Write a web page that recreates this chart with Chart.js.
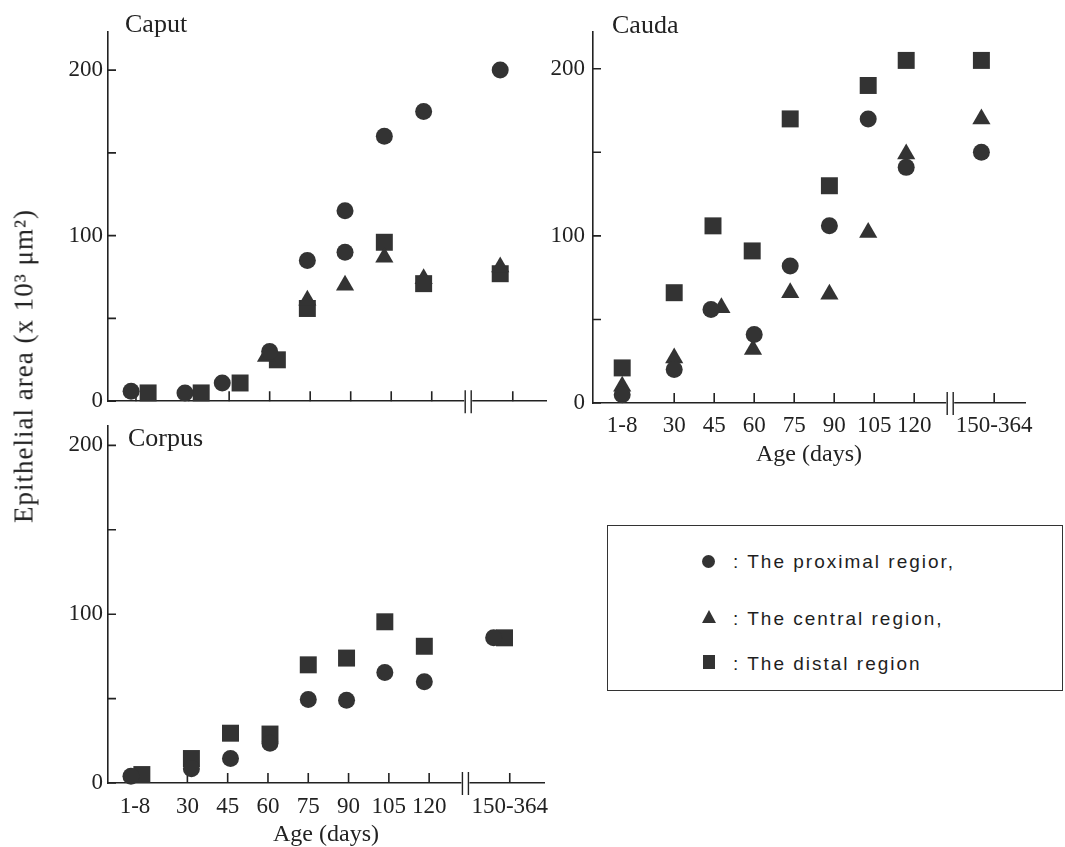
<!DOCTYPE html>
<html>
<head>
<meta charset="utf-8">
<script src="https://cdn.jsdelivr.net/npm/chart.js@4.4.1/dist/chart.umd.min.js"></script>
<style>
  body { margin: 0; background: #fff; width: 1065px; height: 847px; overflow: hidden; position: relative; }
  canvas { position: absolute; }
  #ytitle {
    position: absolute; left: 24px; top: 366px; white-space: nowrap;
    font: 27px/27px "Liberation Serif", serif; color: #222; letter-spacing: 1px;
    transform: translate(-50%, -50%) rotate(-90deg);
  }
  #legend {
    position: absolute; left: 607px; top: 525px; width: 454px; height: 164px;
    border: 1.5px solid #333; font: 19px/20px "Liberation Sans", sans-serif;
    letter-spacing: 2px; color: #1e1e1e;
  }
  #legend .row { position: absolute; left: 0; white-space: nowrap; }
  #legend .mk { position: absolute; background: #333; }
  #legend .txt { position: absolute; left: 125px; top: 0; }
</style>
</head>
<body>
<canvas id="caput" width="560" height="420" style="left:0;top:0"></canvas>
<canvas id="cauda" width="525" height="480" style="left:540px;top:0"></canvas>
<canvas id="corpus" width="560" height="440" style="left:0;top:407px"></canvas>
<div id="ytitle">Epithelial area (x 10³ μm²)</div>
<div id="legend">
  <div class="row" style="top:26px"><span class="mk" style="left:94px;top:3px;width:13px;height:13px;border-radius:50%"></span><span class="txt">: The proximal regior,</span></div>
  <div class="row" style="top:83px"><span class="mk" style="left:94px;top:1px;width:0;height:0;background:none;border-left:7px solid transparent;border-right:7px solid transparent;border-bottom:13px solid #333"></span><span class="txt">: The central region,</span></div>
  <div class="row" style="top:128px"><span class="mk" style="left:95px;top:1px;width:12px;height:14px"></span><span class="txt">: The distal region</span></div>
</div>
<script>
// age groups and where they sit on the (broken) x axis
const ages = ['1-8', '30', '45', '60', '75', '90', '105', '120', '150-364'];
const agePos = [0, 1.3, 2.3, 3.3, 4.3, 5.3, 6.3, 7.3, 9.3];
const breakPos = 8.2;

// Caput (x 10^3 um^2)
const caputProximal = [6, 5, 11, 30, 85, 115, 160, 175, 200];
const caputCentral  = [null, null, null, 27, 61, 70, 87, 74, 81];
const caputDistal   = [5, 5, 11, 25, 56, 90, 96, 71, 77];
// small sideways shifts of the printed symbols (category units)
const caputProximalOff = [-0.12, -0.09, -0.17, 0, -0.07, -0.14, -0.17, -0.2, -0.31];
const caputCentralOff  = [0, 0, 0, -0.09, -0.07, -0.14, -0.17, -0.2, -0.31];
const caputDistalOff   = [0.3, 0.31, 0.27, 0.19, -0.07, -0.14, -0.17, -0.2, -0.31];

// Cauda
const caudaProximal = [5, 20, 56, 41, 82, 106, 170, 141, 150];
const caudaCentral  = [10, 27, 57, 32, 66, 65, 102, 149, 170];
const caudaDistal   = [21, 66, 106, 91, 170, 130, 190, 205, 205];
const caudaProximalOff = [0, 0, -0.08, 0, -0.1, -0.12, -0.15, -0.2, -0.32];
const caudaCentralOff  = [0, 0, 0.18, -0.03, -0.1, -0.12, -0.15, -0.2, -0.32];
const caudaDistalOff   = [0, 0, -0.03, -0.05, -0.1, -0.12, -0.15, -0.2, -0.32];

// Corpus (central symbols hidden under the others)
const corpusProximal = [4, 8.5, 14.5, 23.5, 49.5, 49, 65.5, 60, 86];
const corpusCentral  = [null, null, null, null, null, null, null, null, null];
const corpusDistal   = [5, 14.5, 29.5, 29, 70, 74, 95.5, 81, 86];
const corpusProximalOff = [-0.1, 0.1, 0.07, 0.05, 0, -0.05, -0.1, -0.12, -0.4];
const corpusCentralOff  = [0, 0, 0, 0, 0, 0, 0, 0, 0];
const corpusDistalOff   = [0.17, 0.1, 0.07, 0.05, 0, -0.05, -0.1, -0.12, -0.13];

const ink = '#222';
const markColor = '#333';
const serif = 'Liberation Serif';

// inward ticks, axis break and the panel name
const panelMarks = {
  id: 'panelMarks',
  beforeDatasetsDraw(chart) {
    const {ctx, chartArea: a, scales: {x, y}} = chart;
    ctx.save();
    ctx.strokeStyle = ink;
    ctx.lineWidth = 1.6;
    ctx.beginPath();
    y.ticks.forEach(t => {
      const py = y.getPixelForValue(t.value);
      ctx.moveTo(a.left, py); ctx.lineTo(a.left + 8, py);
    });
    agePos.forEach(p => {
      const px = x.getPixelForValue(p);
      ctx.moveTo(px, a.bottom); ctx.lineTo(px, a.bottom - 10);
    });
    ctx.stroke();
    const bx = x.getPixelForValue(breakPos);
    ctx.fillStyle = '#fff';
    ctx.fillRect(bx - 4, a.bottom - 3, 8, 6);
    ctx.lineWidth = 1.4;
    ctx.beginPath();
    ctx.moveTo(bx - 3, a.bottom - 11); ctx.lineTo(bx - 3, a.bottom + 12);
    ctx.moveTo(bx + 3, a.bottom - 11); ctx.lineTo(bx + 3, a.bottom + 12);
    ctx.stroke();
    ctx.restore();
  },
  afterDraw(chart, args, opts) {
    const {ctx, chartArea: a} = chart;
    ctx.save();
    ctx.fillStyle = ink;
    ctx.font = '26px "' + serif + '"';
    ctx.textBaseline = 'alphabetic';
    ctx.fillText(opts.text, a.left + opts.dx, a.top + opts.dy);
    ctx.restore();
  }
};

function points(vals, off, shape) {
  const out = [];
  vals.forEach((v, i) => {
    if (v !== null) out.push({x: agePos[i] + off[i], y: v, shape: shape});
  });
  return out;
}

const sizes = {circle: 8.5, triangle: 10.5, rect: 12};

function makePanel(id, o) {
  const datasets = [
    points(o.proximal, o.proximalOff, 'circle'),
    points(o.central, o.centralOff, 'triangle'),
    points(o.distal, o.distalOff, 'rect')
  ].map(d => ({
    data: d,
    backgroundColor: markColor,
    borderColor: markColor,
    borderWidth: 0,
    pointStyle: c => c.raw ? c.raw.shape : 'circle',
    pointRadius: c => c.raw ? sizes[c.raw.shape] : 8,
    clip: false
  }));
  if (o.override) o.override(datasets);

  new Chart(document.getElementById(id), {
    type: 'scatter',
    data: { datasets: datasets },
    options: {
      responsive: false,
      animation: false,
      events: [],
      layout: { padding: { top: o.top, right: o.right, left: 0, bottom: 0 } },
      scales: {
        x: {
          type: 'linear', min: o.xmin, max: o.xmax,
          grid: { display: false, drawTicks: false },
          border: { display: true, color: ink, width: 1.6 },
          afterBuildTicks: s => { s.ticks = agePos.map(v => ({ value: v })); },
          afterFit: s => { s.height = o.xh; },
          ticks: {
            display: o.xlabels, autoSkip: false, maxRotation: 0, padding: o.xpad,
            color: ink, font: { family: serif, size: 23 },
            callback: v => { const i = agePos.indexOf(v); return i >= 0 ? ages[i] : ''; }
          },
          title: {
            display: o.xlabels, text: 'Age (days)', color: ink,
            font: { family: serif, size: 24, lineHeight: 1 },
            padding: { top: 0, bottom: o.titlePad }
          }
        },
        y: {
          min: 0, max: o.ymax,
          grid: { display: false, drawTicks: false },
          border: { display: true, color: ink, width: 1.6 },
          afterBuildTicks: s => { s.ticks = [0, 50, 100, 150, 200].map(v => ({ value: v })); },
          afterFit: s => { s.width = o.yw; },
          ticks: {
            padding: o.ypad, color: ink, font: { family: serif, size: 23 },
            callback: v => (v % 100 === 0 ? v : '')
          }
        }
      },
      plugins: {
        legend: { display: false },
        tooltip: { enabled: false },
        panelMarks: { text: o.name, dx: o.nameDx, dy: o.nameDy }
      }
    },
    plugins: [panelMarks]
  });
}

makePanel('caput', {
  name: 'Caput', nameDx: 17, nameDy: 0,
  proximal: caputProximal, central: caputCentral, distal: caputDistal,
  proximalOff: caputProximalOff, centralOff: caputCentralOff, distalOff: caputDistalOff,
  // the distal value at 90 days is printed with a round symbol
  override: ds => { ds[2].data[5].shape = 'circle'; },
  top: 32, right: 14, yw: 108, xh: 15, xmin: -0.69, xmax: 10.12, ymax: 223,
  xlabels: false, xpad: 0, ypad: 5, titlePad: 0
});

makePanel('cauda', {
  name: 'Cauda', nameDx: 19, nameDy: 1,
  proximal: caudaProximal, central: caudaCentral, distal: caudaDistal,
  proximalOff: caudaProximalOff, centralOff: caudaCentralOff, distalOff: caudaDistalOff,
  top: 32, right: 40, yw: 53, xh: 77, xmin: -0.73, xmax: 10.07, ymax: 222,
  xlabels: true, xpad: 9, ypad: 8, titlePad: 13
});

makePanel('corpus', {
  name: 'Corpus', nameDx: 20, nameDy: 20,
  proximal: corpusProximal, central: corpusCentral, distal: corpusDistal,
  proximalOff: corpusProximalOff, centralOff: corpusCentralOff, distalOff: corpusDistalOff,
  top: 11, right: 16, yw: 108, xh: 64, xmin: -0.67, xmax: 10.15, ymax: 211.6,
  xlabels: true, xpad: 10, ypad: 5, titlePad: 0
});
</script>
</body>
</html>
